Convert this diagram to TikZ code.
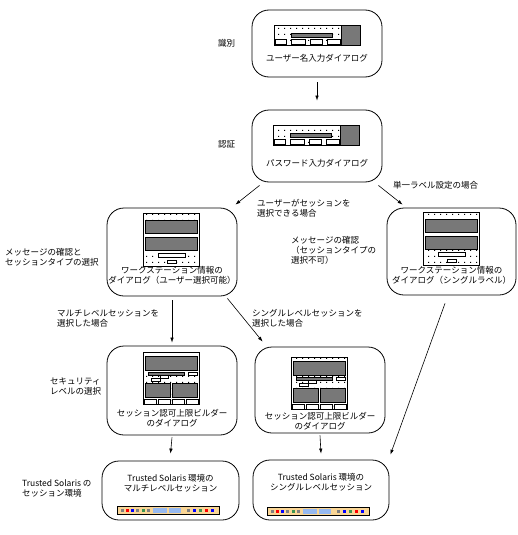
\documentclass[tikz,border=0pt]{standalone}
\usepackage{fontspec}
\setmainfont{Noto Sans CJK JP}
\usetikzlibrary{arrows.meta,calc,patterns}
\definecolor{barOrange}{RGB}{250,214,150}
\definecolor{barBlue}{RGB}{150,185,240}
\definecolor{barGreen}{RGB}{60,150,80}
\definecolor{dlgHatch}{RGB}{120,120,120}

\pgfdeclarepatternformonly{dlgdots}{\pgfpointorigin}{\pgfpoint{6pt}{6pt}}{\pgfpoint{6pt}{6pt}}{%
  \pgfpathrectangle{\pgfpoint{2.5pt}{2.5pt}}{\pgfpoint{1pt}{1pt}}\pgfusepath{fill}}

% small dialog pictures, origin at their top left corner
\newcommand{\logindialog}[1]{%
  \begin{scope}[shift={#1},line width=0.5pt]
    \draw[pattern=dlgdots] (0,0) rectangle (86,20);
    \draw[fill=dlgHatch] (67,0) rectangle (86,20);
    \draw[fill=dlgHatch] (17,8) rectangle (58,12);
    \foreach \bx/\bw in {1/11,17/14,36/12,53/13}
      \draw[fill=white] (\bx,14) rectangle ++(\bw,5);
  \end{scope}}
\newcommand{\wsdialog}[1]{%
  \begin{scope}[shift={#1},line width=0.5pt]
    \draw[pattern=dlgdots] (0,0) rectangle (56,53);
    \draw[fill=dlgHatch] (2,7) rectangle (54,20);
    \draw[fill=dlgHatch] (2,24) rectangle (54,37);
    \draw[fill=white] (15,40) rectangle (42,44);
    \draw[fill=white] (24,47) rectangle (33,50);
  \end{scope}}
\newcommand{\clrdialog}[1]{%
  \begin{scope}[shift={#1},line width=0.5pt]
    \draw[pattern=dlgdots] (0,0) rectangle (56,52);
    \draw[fill=dlgHatch] (2,4) rectangle (54,18);
    \draw[fill=dlgHatch] (5,20) rectangle (41,23);
    \draw[fill=white] (45,20) rectangle (54,23);
    \draw[fill=white] (17,23) rectangle (25,26);
    \draw[fill=white] (8,26) rectangle (17,29);
    \draw[fill=dlgHatch] (2,31) rectangle (27,45);
    \draw[fill=dlgHatch] (29,31) rectangle (54,45);
    \foreach \bx in {1,15,29,43}
      \draw[fill=white] (\bx,47) rectangle ++(12,5);
  \end{scope}}
\newcommand{\sessbar}[1]{%
  \begin{scope}[shift={#1},line width=0.5pt]
    \draw[fill=barOrange] (0,0) rectangle (102,8);
    \fill[barBlue] (36,1.5) rectangle (50,6.5);
    \fill[barBlue] (52,1.5) rectangle (64,6.5);
    \foreach \ix/\ic in {4/gray,9/red,14/blue,19/gray,25/barGreen,30/gray,70/gray,76/blue,82/barGreen,88/red,94/blue}
      \fill[\ic] (\ix,2.5) rectangle ++(3,3);
  \end{scope}}

\begin{document}
\begin{tikzpicture}[
  x=1pt,y=-1pt,
  stage/.style={
    draw,
    line width=0.8pt,
    rounded corners=17pt,
    inner sep=0pt
  },
  boxtext/.style={
    align=center,
    inner sep=0pt,
    font=\fontsize{8.5}{10}\selectfont
  },
  sidetext/.style={
    align=left,
    anchor=west,
    inner sep=0pt,
    font=\fontsize{8.5}{10}\selectfont
  },
  arrow/.style={-{Latex[length=5pt,width=3.5pt]},line width=0.6pt}
]
  \useasboundingbox (0,0) rectangle (518,535);

  % stage boxes
  \node[stage,minimum width=130pt,minimum height=67pt] (ident) at (317,43.5) {};
  \node[stage,minimum width=130pt,minimum height=72pt] (auth) at (317,146) {};
  \node[stage,minimum width=130pt,minimum height=88pt] (wsuser) at (172,252) {};
  \node[stage,minimum width=129pt,minimum height=87pt] (wssingle) at (451.5,251.5) {};
  \node[stage,minimum width=130pt,minimum height=89pt] (clrmulti) at (172,390.5) {};
  \node[stage,minimum width=130pt,minimum height=86pt] (clrsingle) at (320,390) {};
  \node[stage,minimum width=137pt,minimum height=59pt] (multisess) at (170.5,490.5) {};
  \node[stage,minimum width=136pt,minimum height=60pt] (singlesess) at (321,490) {};

  % pictures inside the boxes
  \logindialog{(274,25)}
  \logindialog{(273,125)}
  \wsdialog{(143,213)}
  \wsdialog{(423,212)}
  \clrdialog{(143,352)}
  \clrdialog{(291,357)}
  \sessbar{(117,506.5)}
  \sessbar{(267,507.5)}

  % texts inside the boxes
  \node[boxtext] (identtext) at (317,58) {ユーザー名入力ダイアログ};
  \node[boxtext] (authtext) at (317,163) {パスワード入力ダイアログ};
  \node[boxtext] (wsusertext) at (172,275) {ワークステーション情報の\\ダイアログ（ユーザー選択可能）};
  \node[boxtext] (wssingletext) at (451.5,275) {ワークステーション情報の\\ダイアログ（シングルラベル）};
  \node[boxtext] (clrmultitext) at (172,418) {セッション認可上限ビルダー\\のダイアログ};
  \node[boxtext] (clrsingletext) at (320,421) {セッション認可上限ビルダー\\のダイアログ};
  \node[boxtext] (multitext) at (170.5,483) {Trusted Solaris 環境の\\マルチレベルセッション};
  \node[boxtext] (singletext) at (321,482) {Trusted Solaris 環境の\\シングルレベルセッション};

  % texts beside the boxes
  \node[sidetext] (identlabel) at (218,43) {識別};
  \node[sidetext] (authlabel) at (218,144) {認証};
  \node[sidetext] (wsuserlabel) at (5,257) {メッセージの確認と\\セッションタイプの選択};
  \node[sidetext] (wssinglelabel) at (291,250) {メッセージの確認\\（セッションタイプの\\選択不可）};
  \node[sidetext] (clrlabel) at (50,386.5) {セキュリティ\\レベルの選択};
  \node[sidetext] (sesslabel) at (22,488) {Trusted Solaris の\\セッション環境};
  \node[sidetext] (userchoice) at (257,208) {ユーザーがセッションを\\選択できる場合};
  \node[sidetext] (singlecase) at (393,185) {単一ラベル設定の場合};
  \node[sidetext] (multichoice) at (57,318) {マルチレベルセッションを\\選択した場合};
  \node[sidetext] (singlechoice) at (252,318) {シングルレベルセッションを\\選択した場合};

  % connectors
  \draw[arrow] ($(ident.south)+(0,5)$) -- ($(auth.north)+(0,-9)$);
  \draw[arrow] ($(auth.south west)+(8,3)$) -- ($(wsuser.north east)+(-2,-3)$);
  \draw[arrow] ($(auth.south east)+(-4,3)$) -- ($(wssingle.north west)+(16,-3)$);
  \draw[arrow] ($(wsuser.south)+(0,4)$) -- ($(clrmulti.north)+(0,-3)$);
  \draw[arrow] ($(wsuser.south east)+(-10,2)$) -- ($(clrsingle.north west)+(8,-5)$);
  \draw[arrow] ($(wssingle.south)+(-6.5,8)$) -- ($(singlesess.north east)+(1,-5)$);
  \draw[arrow] ($(clrmulti.south)+(0,2)$) -- ($(multisess.north)+(0,-7)$);
  \draw[arrow] ($(clrsingle.south)+(0,2)$) -- ($(singlesess.north)+(0,-6)$);
\end{tikzpicture}
\end{document}
